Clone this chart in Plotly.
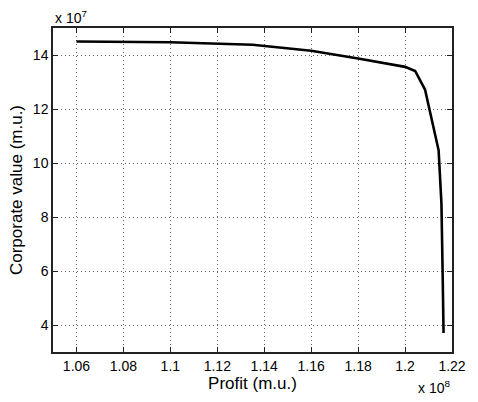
import plotly.graph_objects as go

# Profit (x 1e8 m.u.) vs corporate value (x 1e7 m.u.) along the frontier
profit = [1.06, 1.10, 1.135, 1.16, 1.18, 1.20, 1.2043, 1.2085, 1.2143, 1.2155, 1.2160, 1.2164]
corp_value = [14.50, 14.47, 14.38, 14.16, 13.87, 13.56, 13.41, 12.72, 10.47, 8.5, 6.0, 3.7]

x_ticks = [1.06, 1.08, 1.10, 1.12, 1.14, 1.16, 1.18, 1.20, 1.22]
x_ticklabels = ["1.06", "1.08", "1.1", "1.12", "1.14", "1.16", "1.18", "1.2", "1.22"]
y_ticks = [4, 6, 8, 10, 12, 14]
y_ticklabels = ["4", "6", "8", "10", "12", "14"]

font_family = "Liberation Sans, Arial, Helvetica, sans-serif"

fig = go.Figure()
fig.add_trace(go.Scatter(
    x=profit, y=corp_value, mode="lines",
    line=dict(color="black", width=2.6),
    showlegend=False,
))

axis_common = dict(
    showline=True, linecolor="#222", linewidth=1.5, mirror="ticks",
    ticks="inside", ticklen=5, tickcolor="#222", tickwidth=1,
    showgrid=True, gridcolor="#666", griddash="1px,3px", gridwidth=1,
    zeroline=False,
    tickfont=dict(family=font_family, size=14, color="black"),
)

fig.update_layout(
    width=478, height=402,
    margin=dict(l=53, r=15, t=28, b=50),
    paper_bgcolor="white", plot_bgcolor="white",
    font=dict(family=font_family, color="black"),
    xaxis=dict(range=[1.05, 1.22], tickvals=x_ticks, ticktext=x_ticklabels,
               title=dict(text="Profit (m.u.)", font=dict(size=17), standoff=2),
               **axis_common),
    yaxis=dict(range=[3, 15], tickvals=y_ticks, ticktext=y_ticklabels,
               title=dict(text="Corporate value (m.u.)", font=dict(size=17), standoff=6),
               **axis_common),
    annotations=[
        dict(text="x 10<sup>7</sup>", xref="paper", yref="paper", x=0, y=1,
             xanchor="left", yanchor="bottom", yshift=0, showarrow=False,
             font=dict(size=14)),
        dict(text="x 10<sup>8</sup>", xref="paper", yref="paper", x=1, y=0,
             xanchor="right", yanchor="top", yshift=-24, showarrow=False,
             font=dict(size=14)),
    ],
)

fig.write_html("out.html")
